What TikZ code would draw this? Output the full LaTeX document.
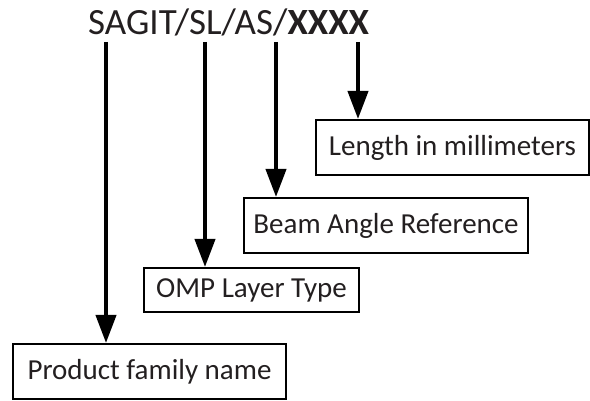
\documentclass[tikz,border=0pt]{standalone}
\usepackage{fontspec}
\setmainfont{Carlito}
\usetikzlibrary{arrows.meta}
\definecolor{inkgray}{HTML}{231F20}

\begin{document}
\begin{tikzpicture}[x=1pt, y=-1pt,
    labelbox/.style={draw, line width=2pt, anchor=north west, inner sep=0pt, align=center, text=inkgray, font=\fontsize{29}{34}\selectfont},
    pointer/.style={-{Triangle[width=20pt, length=28pt]}, line width=4pt}]
    \useasboundingbox (0, 0) rectangle (590, 401);
    \node (code) [anchor=base west, inner sep=0pt, text=inkgray, font=\fontsize{37}{44}\selectfont] at (88, 35) {SAGIT/SL/AS/\textbf{XXXX}};

    \node (family) [labelbox, minimum width=273pt, minimum height=55pt] at (12, 343) {Product family name};
    \node (layer) [labelbox, minimum width=215pt, minimum height=44pt] at (143, 267) {OMP Layer Type};
    \node (angle) [labelbox, minimum width=284pt, minimum height=55pt] at (243, 197) {Beam Angle Reference};
    \node (length) [labelbox, minimum width=273pt, minimum height=55pt] at (315, 119) {Length in millimeters};

    \coordinate (sagit) at (106, 42);
    \coordinate (sl) at (205, 42);
    \coordinate (as) at (276, 42);
    \coordinate (xxxx) at (358, 42);

    \draw [pointer] (sagit) -- (sagit |- family.north);
    \draw [pointer] (sl) -- (sl |- layer.north);
    \draw [pointer] (as) -- (as |- angle.north);
    \draw [pointer] (xxxx) -- (xxxx |- length.north);
\end{tikzpicture}
\end{document}
